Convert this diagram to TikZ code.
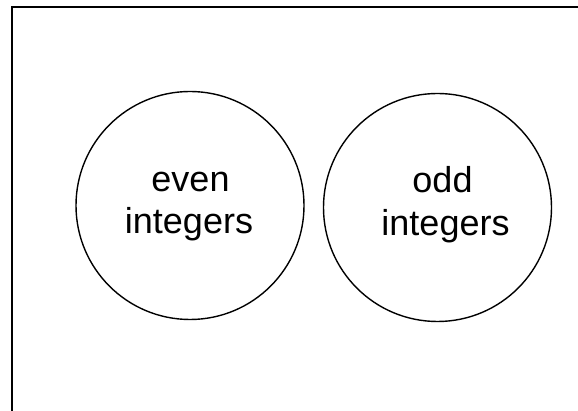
\documentclass[tikz,border=0pt]{standalone}
\usepackage{fontspec}
\setmainfont{Liberation Sans}
\begin{document}
\begin{tikzpicture}[x=1pt,y=1pt,
  setcircle/.style={draw=black, line width=1.4pt, circle, minimum size=228pt, inner sep=0pt},
  setlabel/.style={anchor=base, inner sep=0pt, font=\fontsize{36}{42}\selectfont},
  frameline/.style={draw=black, line width=2.2pt}]
  \useasboundingbox (0,0) rectangle (578,411);
  % frame (only the top and left edges lie inside the page)
  \coordinate (fbl) at (12,-2);
  \coordinate (ftl) at (12,404);
  \coordinate (ftr) at (580,404);
  \draw[frameline] (fbl) -- (ftl) -- (ftr);
  % the two sets
  \node[setcircle] (even) at (190,205.5) {};
  \node[setcircle] (odd) at (437.5,203.5) {};
  \node[setlabel] (evenA) at (190.5,219) {even};
  \node[setlabel] (evenB) at (189,177) {integers};
  \node[setlabel] (oddA) at (442.5,218) {odd};
  \node[setlabel] (oddB) at (445.5,175) {integers};
\end{tikzpicture}
\end{document}
